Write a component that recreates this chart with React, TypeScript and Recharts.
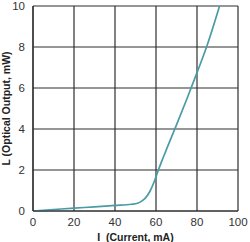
import { LineChart, Line, XAxis, YAxis, CartesianGrid, Label } from "recharts";

// forward current (mA) vs optical output (mW)
const currentMA = [0, 10, 20, 30, 40, 48, 51, 53, 55, 57, 59, 61, 63, 65, 70, 75, 80, 85, 91];
const outputMW = [0, 0.07, 0.14, 0.2, 0.27, 0.33, 0.38, 0.48, 0.65, 0.95, 1.4, 1.95, 2.48, 2.98, 4.2, 5.45, 6.75, 8.1, 10];

const xTicks = [0, 20, 40, 60, 80, 100];
const yTicks = [0, 2, 4, 6, 8, 10];

const GRID = "#2e2e2e";
const TEAL = "#4a9ba6";
const FONT = "'Liberation Sans', Arial, sans-serif";

const data = currentMA.map((c, i) => ({ i: c, l: outputMW[i] }));

export default function App() {
  const tick = { fontSize: 11.5, fill: "#333", fontFamily: FONT };
  const labelStyle = { fontSize: 10.5, fontWeight: 700, fill: "#222", fontFamily: FONT };
  return (
    <div style={{ position: "absolute", left: 0, top: 0, width: 250, height: 242, background: "#fff" }}>
      <LineChart width={250} height={242} data={data} margin={{ top: 6, right: 12, bottom: 0, left: 0 }}>
        <CartesianGrid stroke={GRID} strokeWidth={1.2} />
        <XAxis
          type="number"
          dataKey="i"
          domain={[0, 100]}
          ticks={xTicks}
          tick={tick}
          tickLine={false}
          axisLine={{ stroke: GRID, strokeWidth: 1.2 }}
          tickMargin={1}
          height={31}
        >
          <Label value={"I\u00a0\u00a0(Current, mA)"} position="insideBottom" offset={1} style={labelStyle} />
        </XAxis>
        <YAxis
          type="number"
          domain={[0, 10]}
          ticks={yTicks}
          tick={tick}
          tickLine={false}
          axisLine={{ stroke: GRID, strokeWidth: 1.2 }}
          tickMargin={2}
          width={33}
        >
          <Label
            value="L (Optical Output, mW)"
            angle={-90}
            position="insideLeft"
            offset={6}
            style={{ ...labelStyle, textAnchor: "middle" }}
          />
        </YAxis>
        <Line
          type="monotone"
          dataKey="l"
          stroke={TEAL}
          strokeWidth={1.7}
          dot={false}
          isAnimationActive={false}
        />
      </LineChart>
    </div>
  );
}
